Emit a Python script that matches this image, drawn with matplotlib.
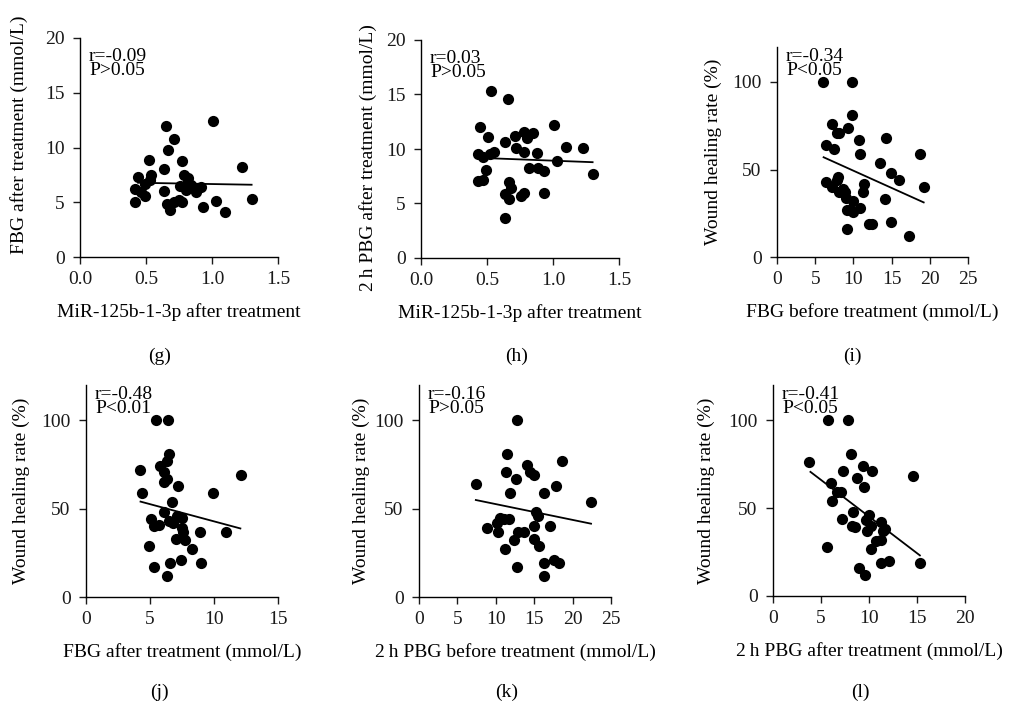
import numpy as np
import matplotlib
matplotlib.use('Agg')
import matplotlib.pyplot as plt

plt.rcParams['font.family'] = ['Liberation Serif', 'DejaVu Serif']
plt.rcParams['font.size'] = 14

# (g) MiR-125b-1-3p after treatment vs FBG after treatment
g_x = [0.65, 1.01, 0.71, 0.67, 0.52, 0.64, 0.77, 1.23, 0.44, 0.54, 0.49, 0.53, 0.42, 0.46, 0.49, 0.42, 0.64,
       0.79, 0.82, 0.81, 0.76, 0.80, 0.84, 0.88, 0.92, 0.75, 0.77, 0.66, 0.68, 0.93, 1.03, 1.10, 1.30, 0.71]
g_y = [12.0, 12.4, 10.8, 9.8, 8.9, 8.0, 8.8, 8.2, 7.3, 7.5, 6.7, 7.0, 6.2, 5.9, 5.6, 5.0, 6.0,
       7.5, 7.2, 6.7, 6.5, 6.1, 6.6, 5.9, 6.4, 5.2, 5.0, 4.8, 4.3, 4.6, 5.1, 4.1, 5.3, 5.0]
g_fit = ([0.44, 1.30], [6.78, 6.60])

# (h) MiR-125b-1-3p after treatment vs 2h PBG after treatment
h_x = [0.53, 0.66, 0.45, 0.51, 0.64, 0.71, 0.78, 0.80, 0.85, 1.01, 0.72, 0.78, 0.43, 0.47, 0.52, 0.55, 0.88, 1.10,
       1.23, 0.49, 0.82, 0.89, 0.93, 1.03, 1.30, 0.43, 0.47, 0.67, 0.68, 0.64, 0.67, 0.76, 0.78, 0.93, 0.64]
h_y = [15.3, 14.6, 12.0, 11.1, 10.6, 11.2, 11.6, 11.0, 11.5, 12.2, 10.1, 9.7, 9.5, 9.3, 9.5, 9.7, 9.6, 10.2,
       10.1, 8.1, 8.3, 8.3, 8.0, 8.9, 7.7, 7.1, 7.2, 7.0, 6.4, 5.9, 5.4, 5.7, 6.0, 6.0, 3.7]
h_fit = ([0.44, 1.30], [9.19, 8.79])

# (i) FBG before treatment vs wound healing rate
i_x = [6.0, 9.8, 9.8, 7.2, 9.3, 7.9, 8.1, 10.7, 6.4, 7.5, 10.9, 14.3, 18.7, 13.5, 14.9, 16.0, 19.3, 6.4, 8.0,
       7.9, 7.2, 11.4, 11.2, 8.6, 8.9, 8.1, 9.0, 10.0, 9.6, 9.9, 9.2, 10.8, 14.1, 12.1, 12.4, 14.9, 9.2, 17.3]
i_y = [100, 100, 81, 76, 74, 71, 71, 67, 64, 62, 59, 68, 59, 54, 48, 44, 40, 43, 46,
       44, 40, 42, 37, 39, 37, 37, 34, 32, 27, 26, 27, 28, 33, 19, 19, 20, 16, 12]
i_fit = ([6.1, 19.2], [57.0, 31.2])

# (j) FBG after treatment vs wound healing rate
j_x = [5.5, 6.4, 6.5, 6.3, 5.8, 6.1, 6.3, 6.1, 4.2, 12.1, 7.2, 4.4, 9.9, 6.7, 6.1, 5.1, 5.3, 5.7,
       6.5, 6.8, 7.1, 7.5, 7.5, 7.6, 8.9, 10.9, 7.0, 7.7, 8.3, 4.9, 5.3, 6.3, 6.6, 7.4, 9.0]
j_y = [100, 100, 81, 77, 74, 71, 67, 65, 72, 69, 63, 59, 59, 54, 48, 44, 40, 41,
       43, 42, 46, 45, 39, 37, 37, 37, 33, 32, 27, 29, 17, 12, 19, 21, 19]
j_fit = ([4.26, 12.06], [54.0, 38.8])

# (k) 2h PBG before treatment vs wound healing rate
k_x = [12.8, 11.4, 14.0, 14.5, 15.0, 11.3, 12.6, 18.6, 7.4, 17.9, 11.8, 16.3, 22.4, 15.2, 15.5, 10.5, 11.1,
       11.7, 10.2, 8.8, 10.3, 12.9, 13.7, 15.0, 17.0, 15.0, 12.4, 15.6, 11.2, 12.7, 16.3, 17.6, 18.2, 16.3]
k_y = [100, 81, 75, 71, 69, 71, 67, 77, 64, 63, 59, 59, 54, 48, 46, 45, 44,
       44, 42, 39, 37, 37, 37, 40, 40, 33, 32, 29, 27, 17, 19, 21, 19, 12]
k_fit = ([7.4, 22.4], [54.9, 41.5])

# (l) 2h PBG after treatment vs wound healing rate
l_x = [5.7, 7.8, 8.1, 3.8, 9.4, 10.3, 7.3, 14.6, 8.7, 9.5, 6.0, 6.7, 7.1, 6.1, 8.3, 10.0, 9.7,
       10.2, 11.3, 7.2, 8.2, 8.5, 9.8, 11.5, 11.7, 10.7, 11.3, 10.2, 5.6, 15.3, 11.2, 12.1, 9.0, 9.6]
l_y = [100, 100, 81, 76, 74, 71, 71, 68, 67, 62, 64, 59, 59, 54, 48, 46, 43,
       40, 42, 44, 40, 39, 37, 37, 38, 31, 32, 27, 28, 19, 19, 20, 16, 12]
l_fit = ([3.9, 15.3], [70.6, 23.1])

W, H = 1014, 707
fig = plt.figure(figsize=(W / 100, H / 100), dpi=100)

# tag, x, y, fit, xlabel, ylabel, stats, xmax, xticks, ymax, yticks,
# axes box in px (left, right, top, bottom), ylabel right edge px, ylabel centre (axes frac), tag x px
panels = [
    ('(g)', g_x, g_y, g_fit, 'MiR-125b-1-3p after treatment', 'FBG after treatment (mmol/L)', 'r=-0.09\nP>0.05',
     1.5, [0.0, 0.5, 1.0, 1.5], 20, [0, 5, 10, 15, 20], (80, 278, 38, 257), 28, 0.56, 160),
    ('(h)', h_x, h_y, h_fit, 'MiR-125b-1-3p after treatment', '2\u2009h PBG after treatment (mmol/L)', 'r=0.03\nP>0.05',
     1.5, [0.0, 0.5, 1.0, 1.5], 20, [0, 5, 10, 15, 20], (421, 619, 40, 258), 377, 0.46, 517),
    ('(i)', i_x, i_y, i_fit, 'FBG before treatment (mmol/L)', 'Wound healing rate (%)', 'r=-0.34\nP<0.05',
     25, [0, 5, 10, 15, 20, 25], 120, [0, 50, 100], (777, 968, 47, 257), 722, 0.5, 852),
    ('(j)', j_x, j_y, j_fit, 'FBG after treatment (mmol/L)', 'Wound healing rate (%)', 'r=-0.48\nP<0.01',
     15, [0, 5, 10, 15], 120, [0, 50, 100], (86, 278, 385, 597), 30, 0.5, 159),
    ('(k)', k_x, k_y, k_fit, '2\u2009h PBG before treatment (mmol/L)', 'Wound healing rate (%)', 'r=-0.16\nP>0.05',
     25, [0, 5, 10, 15, 20, 25], 120, [0, 50, 100], (419, 611, 385, 597), 370, 0.5, 507),
    ('(l)', l_x, l_y, l_fit, '2\u2009h PBG after treatment (mmol/L)', 'Wound healing rate (%)', 'r=-0.41\nP<0.05',
     20, [0, 5, 10, 15, 20], 120, [0, 50, 100], (773, 965, 385, 596), 715, 0.5, 860),
]

for tag, x, y, fit, xl, yl, stats, xmax, xt, ymax, yt, box, ylab_r, ylab_c, tag_x in panels:
    left, right, top, bottom = box
    ax = fig.add_axes([left / W, 1 - bottom / H, (right - left) / W, (bottom - top) / H])
    ax.scatter(x, y, s=65, color='black', zorder=3, linewidths=0)
    ax.plot(fit[0], fit[1], color='black', lw=1.3, zorder=4)
    ax.set_xlim(0, xmax)
    ax.set_ylim(0, ymax)
    ax.set_xticks(xt)
    ax.set_yticks(yt)
    if xmax == 1.5:
        ax.set_xticklabels([f'{v:.1f}' for v in xt])
    for s in ['top', 'right']:
        ax.spines[s].set_visible(False)
    for s in ['left', 'bottom']:
        ax.spines[s].set_linewidth(1.0)
    ax.tick_params(direction='out', length=5, width=1.0, labelsize=14, colors='#1a1a1a')
    ax.tick_params(axis='x', pad=5)
    ax.tick_params(axis='y', pad=6)
    ax.set_xlabel(xl, fontsize=14, labelpad=11)
    ax.set_ylabel(yl, fontsize=14)
    ax.yaxis.set_label_coords((ylab_r - left) / (right - left), ylab_c)
    off_top = 10 if ymax == 20 else 1
    ax.annotate(stats, xy=(0, 1), xycoords='axes fraction', xytext=(9 * 0.72, -off_top * 0.72),
                textcoords='offset points', ha='left', va='top', fontsize=14, linespacing=0.78)
    tag_y = 356 if top < 300 else 692
    fig.text(tag_x / W, 1 - tag_y / H, tag, ha='center', va='center', fontsize=14)

fig.savefig('out.png', dpi=100)
